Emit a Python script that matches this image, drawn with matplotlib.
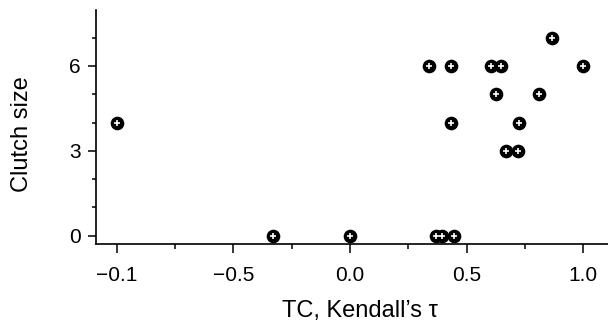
import matplotlib
matplotlib.use("Agg")
import matplotlib.pyplot as plt
from matplotlib.ticker import MultipleLocator

plt.rcParams['font.family'] = ['Liberation Sans', 'DejaVu Sans']

# Kendall's tau (TC) vs clutch size
tau = [-1.0, -0.33, 0.0, 0.37, 0.395, 0.445,
       0.34, 0.435, 0.605, 0.648, 1.0,
       0.865, 0.625, 0.81, 0.435, 0.725, 0.67, 0.72]
clutch = [4, 0, 0, 0, 0, 0,
          6, 6, 6, 6, 6,
          7, 5, 5, 4, 4, 3, 3]

xticks = [-1.0, -0.5, 0.0, 0.5, 1.0]
xticklabels = ["\u22120.1", "\u22120.5", "0.0", "0.5", "1.0"]  # as printed in the source
yticks = [0, 3, 6]

fig = plt.figure(figsize=(6.08, 3.26), dpi=100)
ax = fig.add_axes([0.1574, 0.2515, 0.8426, 0.7178])

ax.plot(tau, clutch, 'o', color='black', markersize=8.8, markeredgewidth=1, zorder=3, clip_on=False)
ax.plot(tau, clutch, '+', color='white', markersize=4, markeredgewidth=1.2, zorder=4, clip_on=False)

ax.set_xlim(-1.091, 1.107)
ax.set_ylim(-0.293, 7.975)
ax.set_xticks(xticks)
ax.set_xticklabels(xticklabels)
ax.xaxis.set_minor_locator(MultipleLocator(0.25))
ax.set_yticks(yticks)
ax.yaxis.set_minor_locator(MultipleLocator(1))

for s in ['top', 'right']:
    ax.spines[s].set_visible(False)
for s in ['left', 'bottom']:
    ax.spines[s].set_linewidth(1.2)

ax.tick_params(axis='x', which='major', length=6.5, width=1.1, labelsize=15, pad=9)
ax.tick_params(axis='x', which='minor', length=3.5, width=1.1)
ax.tick_params(axis='y', which='major', length=5.5, width=1.1, labelsize=15, pad=5)
ax.tick_params(axis='y', which='minor', length=3, width=1.1)

ax.set_xlabel("TC, Kendall\u2019s \u03c4", fontsize=17)
ax.set_ylabel("Clutch size", fontsize=17)
ax.xaxis.set_label_coords(0.516, -0.238)
ax.yaxis.set_label_coords(-0.122, 0.47)

fig.savefig("out.png", dpi=100)
